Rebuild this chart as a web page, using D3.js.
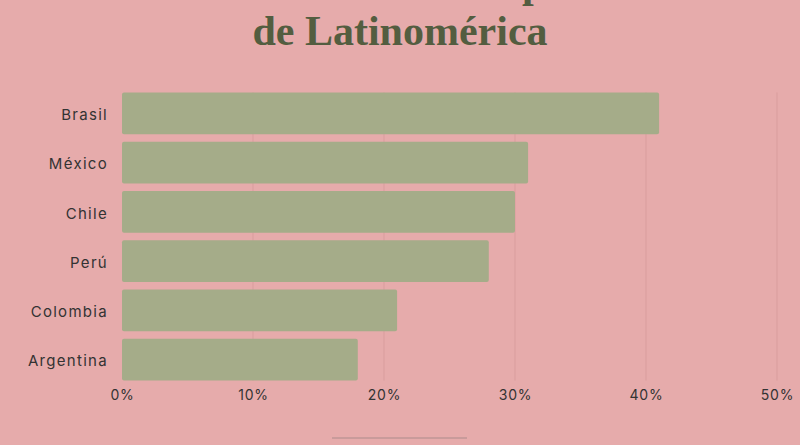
<!DOCTYPE html>
<html>
<head>
<meta charset="utf-8">
<script src="https://cdn.jsdelivr.net/npm/d3@7"></script>
<style>
  html, body { margin: 0; padding: 0; background: #e6abab; }
  svg { display: block; }
</style>
</head>
<body>
<svg id="chart" width="800" height="445"></svg>
<script>
const categories = ["Brasil", "México", "Chile", "Perú", "Colombia", "Argentina"];
const values = [41, 31, 30, 28, 21, 18];
const tickValues = [0, 10, 20, 30, 40, 50];
const titleLines = ["El comercio electrónico en los países", "de Latinomérica"];

const svg = d3.select("#chart");
const W = 800, H = 445;
const margin = { left: 122, right: 23, top: 90, bottom: 62 };

svg.append("rect").attr("width", W).attr("height", H).attr("fill", "#e6abab");

const x = d3.scaleLinear().domain([0, 50]).range([margin.left, W - margin.right]);
const y = d3.scaleBand().domain(categories).range([margin.top, H - margin.bottom])
  .paddingInner(0.15).paddingOuter(0.05);

// title
const title = svg.append("g");
title.selectAll("text").data(titleLines).join("text")
  .attr("x", (d, i) => i === 0 ? 305 : 400)
  .attr("y", (d, i) => i === 0 ? -3 : 45)
  .attr("text-anchor", "middle")
  .attr("font-family", "'Liberation Serif', 'DejaVu Serif', serif")
  .attr("font-weight", "bold")
  .attr("font-size", 42)
  .attr("fill", "#535d40")
  .text(d => d);

// gridlines
svg.append("g").selectAll("line").data(tickValues.filter(d => d > 0)).join("line")
  .attr("x1", d => x(d)).attr("x2", d => x(d))
  .attr("y1", y(categories[0])).attr("y2", y(categories[categories.length - 1]) + y.bandwidth())
  .attr("stroke", "#d99d9d").attr("stroke-width", 1);

// bars
svg.append("g").selectAll("rect").data(categories).join("rect")
  .attr("x", x(0))
  .attr("y", d => y(d))
  .attr("width", (d, i) => x(values[i]) - x(0))
  .attr("height", y.bandwidth())
  .attr("rx", 2)
  .attr("fill", "#a5ac89");

// y axis labels
const yAxis = d3.axisLeft(y).tickSize(0).tickPadding(14);
const yg = svg.append("g").attr("transform", `translate(${x(0)},0)`).call(yAxis);
yg.select(".domain").remove();
yg.selectAll("text")
  .attr("font-family", "'Inter', 'Noto Sans', sans-serif")
  .attr("font-size", 15)
  .attr("letter-spacing", 1.3)
  .attr("dy", "0.45em")
  .attr("fill", "#333");

// x axis
const xAxis = d3.axisBottom(x).tickValues(tickValues).tickSize(0).tickPadding(10)
  .tickFormat(d => d + "%");
const xg = svg.append("g")
  .attr("transform", `translate(0,${y(categories[categories.length - 1]) + y.bandwidth()})`)
  .call(xAxis);
xg.select(".domain").remove();
xg.selectAll("text")
  .attr("font-family", "'Inter', 'Noto Sans', sans-serif")
  .attr("font-size", 14)
  .attr("letter-spacing", 0.8)
  .attr("fill", "#333");

// bottom decorative line
svg.append("line")
  .attr("x1", 332).attr("x2", 467).attr("y1", 438).attr("y2", 438)
  .attr("stroke", "#c99b9b").attr("stroke-width", 2);
</script>
</body>
</html>
